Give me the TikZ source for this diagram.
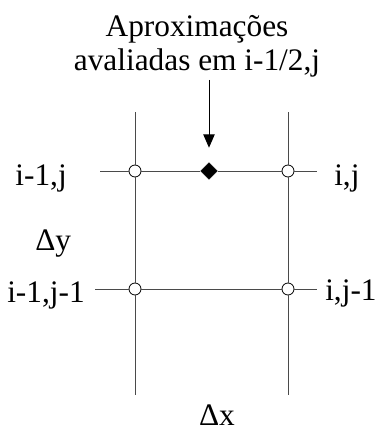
\documentclass[tikz,border=0pt]{standalone}
\usepackage{fontspec}
\setmainfont{Liberation Serif}
\usetikzlibrary{shapes.geometric,arrows.meta,positioning}
\definecolor{gridgray}{HTML}{4A4A4A}
\tikzset{
  knot/.style={circle,draw=black,fill=white,inner sep=0pt,minimum size=9pt,line width=0.6pt},
  face/.style={diamond,draw=black,fill=black,inner sep=0pt,minimum width=12.5pt,minimum height=12.5pt},
  gridln/.style={gridgray,line width=0.75pt},
  arr/.style={-{Triangle[length=10pt,width=8.5pt]},line width=0.75pt,black},
  lbl/.style={font=\fontsize{23.5pt}{25.5pt}\selectfont,inner sep=0pt},
}

\begin{document}
\begin{tikzpicture}[x=0.75pt,y=-0.75pt]
  \useasboundingbox (0,0) rectangle (377,432);
  % grid points
  \node[knot] (nw) at (135,171) {};
  \node[knot] (ne) at (288,171) {};
  \node[knot] (sw) at (135,289) {};
  \node[knot] (se) at (288,289) {};
  \node[face] (mid) at (209,171) {};
  % free ends of the grid lines
  \coordinate (wtop) at (135,112);
  \coordinate (wbot) at (135,395);
  \coordinate (etop) at (288,112);
  \coordinate (ebot) at (288,395);
  \coordinate (nleft) at (100,171);
  \coordinate (nright) at (317,171);
  \coordinate (sleft) at (95,289);
  \coordinate (sright) at (317,289);
  \draw[gridln] (wtop) -- (nw) -- (sw) -- (wbot);
  \draw[gridln] (etop) -- (ne) -- (se) -- (ebot);
  \draw[gridln] (nleft) -- (nw) -- (mid) -- (ne) -- (nright);
  \draw[gridln] (sleft) -- (sw) -- (se) -- (sright);
  % labels
  \node[lbl,align=center,inner sep=2pt] (title) at (197,46) {Aproxima\c{c}\~oes\\avaliadas em i-1/2,j};
  \node[lbl,anchor=base east] (lnw) at (67,185) {i-1,j};
  \node[lbl,anchor=base west] (lne) at (334,185) {i,j};
  \node[lbl,anchor=base west] (dy) at (35,250) {Δy};
  \node[lbl,anchor=base east] (lsw) at (85,302) {i-1,j-1};
  \node[lbl,anchor=base west] (lse) at (325,300) {i,j-1};
  \node[lbl,anchor=base] (dx) at (217,425) {Δx};
  \draw[arr,shorten >=11pt] (title.south -| mid) -- (mid);
\end{tikzpicture}
\end{document}
